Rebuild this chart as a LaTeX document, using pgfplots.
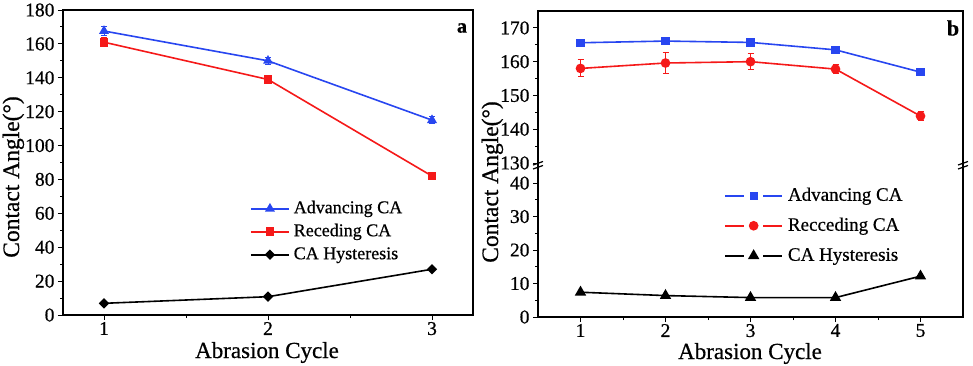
\documentclass[border=0pt]{standalone}
\usepackage{fontspec}
\setmainfont{Liberation Serif}[FakeBold=0.6]
\usepackage{pgfplots}
\pgfplotsset{compat=1.18}

\definecolor{cblue}{RGB}{40,70,240}
\definecolor{cred}{RGB}{245,25,25}

\pgfplotsset{
  base/.style={
    scale only axis,
    /pgf/number format/assume math mode=true,
    tick label style={font=\fontsize{19.5}{21}\selectfont},
    xticklabel style={yshift=1.5pt},
    tick align=outside,
    major tick length=5pt,
    minor tick length=3pt,
    tick style={black, line width=1pt},
    axis line style={line width=1.5pt},
    tick pos=left,
    clip=false,
  },
  errs/.style={
    error bars/.cd, y dir=both, y explicit,
    error bar style={line width=1pt},
    error mark options={rotate=90, mark size=3pt, line width=1pt},
  },
}

\begin{document}
\begin{tikzpicture}
\useasboundingbox (0pt,0pt) rectangle (973pt,365pt);

% ---- panel a ----
\begin{axis}[base,
  at={(63pt,50pt)}, anchor=south west,
  width=410pt, height=305pt,
  xmin=0.75, xmax=3.25, ymin=0, ymax=180,
  xtick={1,2,3}, ytick={0,20,...,180},
  minor x tick num=1, minor y tick num=1,
  legend style={at={(rel axis cs:0.456,0.377)}, anchor=north west,
    draw=none, fill=none, inner sep=0pt, row sep=6pt,
    font=\fontsize{18}{20}\selectfont,
    nodes={inner sep=0pt, text height=13pt, text depth=4pt},
    /tikz/every odd column/.append style={column sep=4pt}},
  legend cell align=left,
  legend image code/.code={
    \draw[mark repeat=2,mark phase=2,#1] plot coordinates {(0pt,0pt) (19pt,0pt) (38pt,0pt)};},
]
\addplot[cblue, line width=1.6pt, mark=triangle*, mark size=4.2pt, errs]
  coordinates {(1,167.6) +- (0,2.5) (2,150) +- (0,2) (3,115) +- (0,2)};
\addlegendentry{Advancing CA}
\addplot[cred, line width=1.6pt, mark=square*, mark size=3.6pt, errs]
  coordinates {(1,161) +- (0,2.5) (2,139) +- (0,2.5) (3,82) +- (0,1.5)};
\addlegendentry{Receding CA}
\addplot[black, line width=1.6pt, mark=square*, mark size=2.9pt, mark options={rotate=45}]
  coordinates {(1,6.9) (2,10.8) (3,27)};
\addlegendentry{CA Hysteresis}
\end{axis}

% ---- panel b, upper part ----
\begin{axis}[base,
  at={(538pt,202pt)}, anchor=south west,
  width=425pt, height=152pt,
  axis line style={draw=none},
  xmin=0.5, xmax=5.5, ymin=130, ymax=175,
  xtick=\empty, ytick={130,140,...,170},
  minor y tick num=1,
]
\addplot[cblue, line width=1.6pt, mark=square*, mark size=3.3pt, errs]
  coordinates {(1,165.6) +- (0,0.6) (2,166.1) +- (0,0.8) (3,165.7) +- (0,0.7) (4,163.5) +- (0,0.5) (5,156.9) +- (0,0.5)};
\addplot[cred, line width=1.6pt, mark=*, mark size=4pt, errs]
  coordinates {(1,158) +- (0,2.5) (2,159.6) +- (0,3) (3,160) +- (0,2.3) (4,157.8) +- (0,1.3) (5,143.9) +- (0,1.2)};
\draw[line width=1.5pt] (rel axis cs:0,0) -- (rel axis cs:0,1) -- (rel axis cs:1,1) -- (rel axis cs:1,0);
\end{axis}

% ---- panel b, lower part ----
\begin{axis}[base,
  at={(538pt,48pt)}, anchor=south west,
  width=425pt, height=154pt,
  axis line style={draw=none},
  xmin=0.5, xmax=5.5, ymin=0, ymax=46,
  xtick={1,2,3,4,5}, ytick={0,10,...,40},
  minor x tick num=1, minor y tick num=1,
  legend style={at={(rel axis cs:0.438,0.847)}, anchor=north west,
    draw=none, fill=none, inner sep=0pt, row sep=12pt,
    font=\fontsize{19}{21}\selectfont,
    nodes={inner sep=0pt, text height=14pt, text depth=4pt},
    /tikz/every odd column/.append style={column sep=5pt}},
  legend cell align=left,
  legend image code/.code={
    \draw[#1, mark=none] (0pt,0pt) -- (19pt,0pt);
    \draw[#1, mark=none] (38pt,0pt) -- (57pt,0pt);
    \path[#1] plot coordinates {(28.5pt,0pt)};},
]
\addlegendimage{cblue, line width=1.6pt, mark=square*, mark size=3.3pt}
\addlegendentry{Advancing CA}
\addlegendimage{cred, line width=1.6pt, mark=*, mark size=4pt}
\addlegendentry{Recceding CA}
\addplot[black, line width=1.6pt, mark=triangle*, mark size=5pt]
  coordinates {(1,7.4) (2,6.4) (3,5.8) (4,5.8) (5,12.2)};
\addlegendentry{CA Hysteresis}
\draw[line width=1.5pt] (rel axis cs:0,1) -- (rel axis cs:0,0) -- (rel axis cs:1,0) -- (rel axis cs:1,1);
\end{axis}

% axis break marks
\foreach \bx in {538,963} {
  \draw[line width=1.2pt] (\bx pt-5pt,200pt) -- (\bx pt+5pt,203.5pt);
  \draw[line width=1.2pt] (\bx pt-5pt,196pt) -- (\bx pt+5pt,199.5pt);
}

% labels
\node[rotate=90, anchor=base, font=\fontsize{23.5}{26}\selectfont] at (19pt,188pt) {Contact Angle(°)};
\node[rotate=90, anchor=base, font=\fontsize{23.5}{26}\selectfont] at (498pt,183pt) {Contact Angle(°)};
\node[anchor=base, font=\fontsize{23}{26}\selectfont] at (267pt,7pt) {Abrasion Cycle};
\node[anchor=base, font=\fontsize{23}{26}\selectfont] at (750pt,6pt) {Abrasion Cycle};
\node[font=\fontsize{20}{22}\selectfont\bfseries] at (462pt,337pt) {a};
\node[font=\fontsize{22}{24}\selectfont\bfseries] at (953pt,337pt) {b};
\end{tikzpicture}
\end{document}
